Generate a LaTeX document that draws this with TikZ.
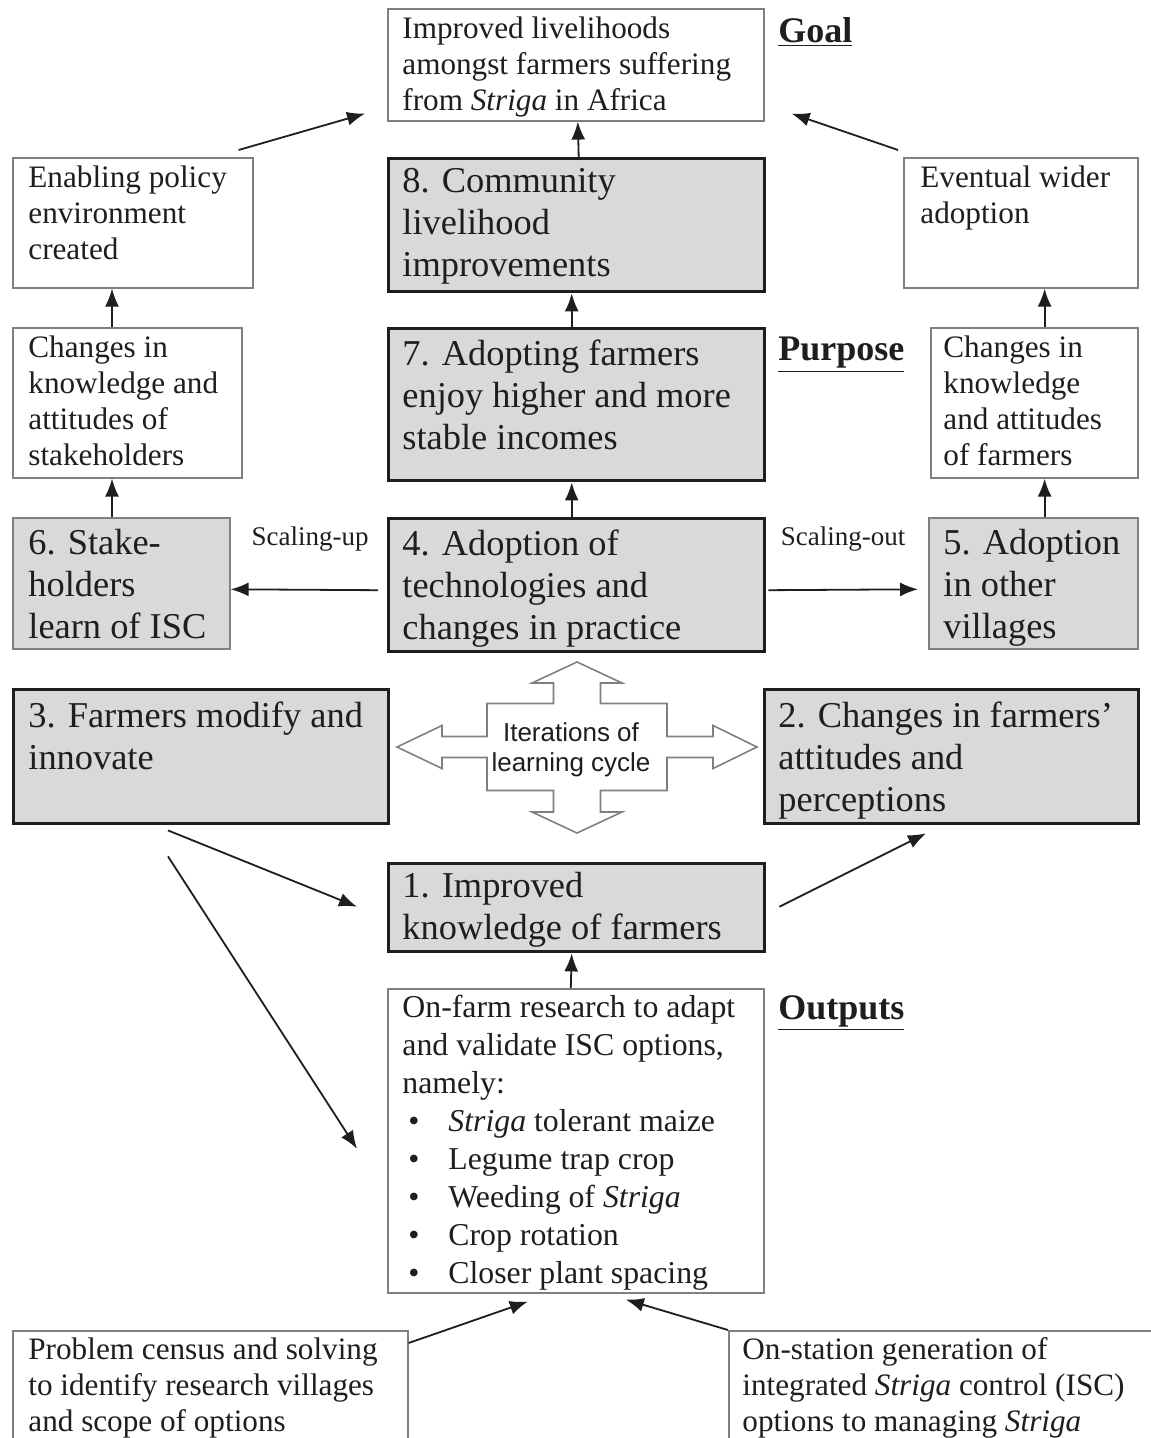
\documentclass[tikz,border=0pt]{standalone}
\usepackage{fontspec}
\setmainfont{Liberation Serif}
\newfontfamily\arialf{Liberation Sans}
\usetikzlibrary{calc,arrows.meta}
\definecolor{boxgray}{HTML}{D9D9D9}
\definecolor{edgegray}{HTML}{808080}
\definecolor{ink}{HTML}{1E1E1E}
\newcommand\mkbox[9]{%
  \node[#1, minimum width=#5*0.5pt, minimum height=#6*0.5pt] (#2) at (#3,#4) {};
  \node[txt,#7] (#2-t) at ($(#2.north west)+(#8)$) {#9};}
\newcommand\bul{\hspace*{3pt}\makebox[20pt][l]{\textbullet}}
\begin{document}
\begin{tikzpicture}[x=0.5pt,y=-0.5pt,
  thinbox/.style={draw=edgegray, line width=0.8pt, fill=white, anchor=north west, inner sep=0pt},
  thickbox/.style={draw=ink, line width=1.7pt, fill=boxgray, anchor=north west, inner sep=0pt},
  graybox/.style={draw=edgegray, line width=0.8pt, fill=boxgray, anchor=north west, inner sep=0pt},
  small/.style={font=\fontsize{15.6}{18}\selectfont},
  big/.style={font=\fontsize{18.2}{21}\selectfont},
  outs/.style={font=\fontsize{15.9}{19}\selectfont},
  txt/.style={anchor=north west, align=left, inner sep=0pt, text=ink},
  arr/.style={draw=ink, line width=0.9pt, -{Latex[length=9pt,width=7pt]}},
  head/.style={anchor=west, inner sep=0pt, text=ink, font=\fontsize{18}{21}\selectfont\bfseries},
  scal/.style={inner sep=0pt, text=ink, font=\fontsize{13.5}{16}\selectfont},
  crossarrow/.style={draw=edgegray, line width=0.8pt, fill=white, line join=miter}
]
\useasboundingbox (0,0) rectangle (1150,1438);

% row 1: goal
\mkbox{thinbox}{goal}{387}{8}{376}{112}{small}{15,8}{Improved livelihoods\\amongst farmers suffering\\from \textit{Striga} in Africa}
\node[head] (goallab) at (778,32) {\underline{Goal}};

% row 2
\mkbox{thinbox}{enab}{12}{157}{240}{130}{small}{16,8}{Enabling policy\\environment\\created}
\mkbox{thickbox}{b8}{387}{157}{376}{133}{big}{15,11}{8. Community\\livelihood\\improvements}
\mkbox{thinbox}{wide}{903}{157}{234}{130}{small}{17,8}{Eventual wider\\adoption}

% row 3
\mkbox{thinbox}{stake}{12}{327}{229}{150}{small}{16,8}{Changes in\\knowledge and\\attitudes of\\stakeholders}
\mkbox{thickbox}{b7}{387}{327}{376}{152}{big}{15,12}{7. Adopting farmers\\enjoy higher and more\\stable incomes}
\node[head] (purplab) at (778,355) {\underline{Purpose}};
\mkbox{thinbox}{farm}{930}{327}{207}{150}{small}{13,8}{Changes in\\knowledge\\and attitudes\\of farmers}

% row 4
\mkbox{graybox}{b6}{12}{517}{217}{131}{big}{16,12}{6. Stake-\\holders\\learn of ISC}
\mkbox{thickbox}{b4}{387}{517}{376}{133}{big}{15,12}{4. Adoption of\\technologies and\\changes in practice}
\mkbox{graybox}{b5}{928}{517}{209}{131}{big}{15,12}{5. Adoption\\in other\\villages}
\node[scal] (sup) at (310,539) {Scaling-up};
\node[scal] (sout) at (843,539) {Scaling-out};

% row 5
\mkbox{thickbox}{b3}{12}{688}{375}{134}{big}{16,13}{3. Farmers modify and\\innovate}
\mkbox{thickbox}{b2}{763}{688}{374}{134}{big}{15,13}{2. Changes in farmers’\\attitudes and\\perceptions}

% cross arrow
\coordinate (cyc) at (577,747);
\draw[crossarrow, shift={(cyc)}]
  (0,-85) -- (45,-64) -- (23.5,-64) -- (23.5,-43.5) -- (90,-43.5) -- (90,-10.5)
  -- (136,-10.5) -- (136,-21.5) -- (180,0) -- (136,21.5) -- (136,10.5) -- (90,10.5)
  -- (90,43.5) -- (23.5,43.5) -- (23.5,65) -- (45,65) -- (0,86) -- (-45,65)
  -- (-23.5,65) -- (-23.5,43.5) -- (-90,43.5) -- (-90,10.5) -- (-135,10.5)
  -- (-135,21.5) -- (-180,0) -- (-135,-21.5) -- (-135,-10.5) -- (-90,-10.5)
  -- (-90,-43.5) -- (-23.5,-43.5) -- (-23.5,-64) -- (-45,-64) -- cycle;
\node[align=center, inner sep=0pt, text=ink, font=\arialf\fontsize{13}{15}\selectfont] (cyct) at ($(cyc)+(-6,3)$) {Iterations of\\learning cycle};

% row 6
\mkbox{thickbox}{b1}{387}{862}{376}{88}{big}{15,10}{1. Improved\\knowledge of farmers}

% outputs
\mkbox{thinbox}{outp}{387}{988}{376}{304}{outs}{15,7}{On-farm research to adapt\\and validate ISC options,\\namely:\\\bul\textit{Striga} tolerant maize\\\bul Legume trap crop\\\bul Weeding of \textit{Striga}\\\bul Crop rotation\\\bul Closer plant spacing}
\node[head] (outlab) at (778,1013) {\underline{Outputs}};

% bottom
\mkbox{thinbox}{census}{12}{1330}{395}{130}{small}{16,7}{Problem census and solving\\to identify research villages\\and scope of options}
\mkbox{thinbox}{station}{728}{1330}{440}{130}{small}{14,7}{On-station generation of\\integrated \textit{Striga} control (ISC)\\options to managing \textit{Striga}}

% connectors
\draw[arr] ($(enab.north east)+(-15,-7)$) -- ($(goal.south west)+(-22,-8)$);
\draw[arr] ($(wide.north west)+(-5,-7)$) -- ($(goal.south east)+(27,-8)$);
\draw[arr] ($(b8.north)+(2,0)$) -- ($(goal.south)+(2,0)$);
\draw[arr] ($(b7.north)+(-5,0)$) -- ($(b8.south)+(-5,0)$);
\draw[arr] ($(b4.north)+(-5,0)$) -- ($(b7.south)+(-5,0)$);
\draw[arr] ($(stake.north west)+(100,0)$) -- ($(enab.south west)+(100,0)$);
\draw[arr] ($(b6.north west)+(100,0)$) -- ($(stake.south west)+(100,0)$);
\draw[arr] ($(b5.north east)+(-94,0)$) -- ($(farm.south east)+(-94,0)$);
\draw[arr] ($(farm.north east)+(-94,0)$) -- ($(wide.south east)+(-94,0)$);
\draw[arr] ($(b4.west)+(-9,5)$) -- ($(b6.east)+(0,6)$);
\draw[arr] ($(b4.east)+(2,5)$) -- ($(b5.west)+(-10,6)$);
\draw[arr] ($(b3.south west)+(156,5)$) -- ($(b1.west)+(-30,-1)$);
\draw[arr] ($(b3.south west)+(156,31)$) -- ($(outp.west)+(-30,8)$);
\draw[arr] ($(b1.east)+(13,-1)$) -- ($(b2.south west)+(163,8)$);
\draw[arr] ($(outp.north)+(-5,0)$) -- ($(b1.south)+(-5,0)$);
\draw[arr] ($(census.north east)+(0,13)$) -- ($(outp.south)+(-48,8)$);
\draw[arr] (station.north west) -- ($(outp.south)+(50,6)$);
\end{tikzpicture}
\end{document}
